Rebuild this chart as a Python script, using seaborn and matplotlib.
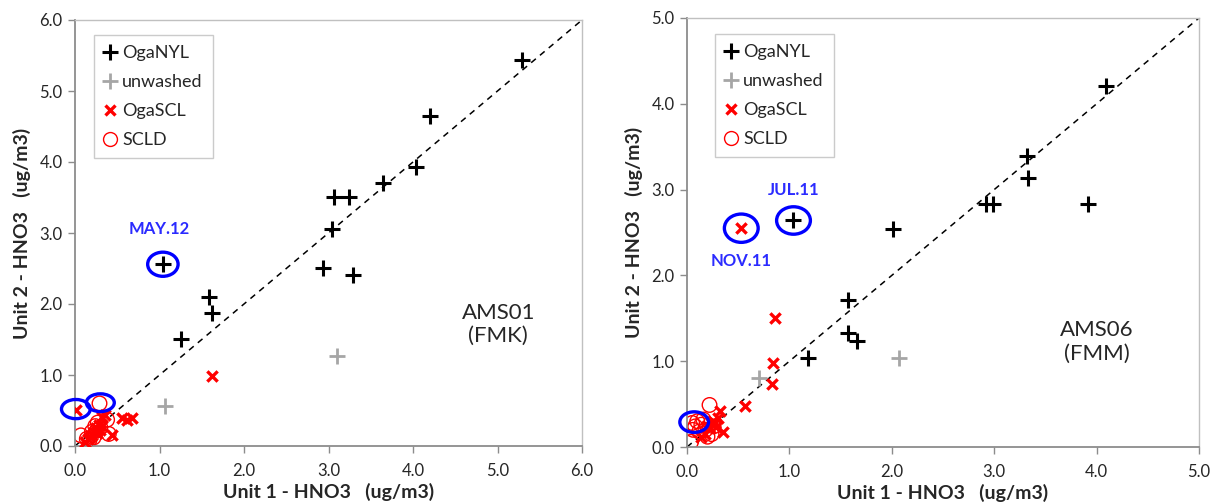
import matplotlib
matplotlib.use("Agg")
import matplotlib.pyplot as plt
from matplotlib.patches import Ellipse
from matplotlib.lines import Line2D
import seaborn as sns
import pandas as pd

sns.set_theme(style="white")
plt.rcParams['font.family'] = ['Lato', 'DejaVu Sans']

# ---------------- Data: AMS01 (FMK) ----------------
a1_nyl_x = [5.29, 4.20, 4.04, 3.65, 3.06, 3.24, 3.04, 2.93, 3.29, 1.04, 1.59, 1.62, 1.25]
a1_nyl_y = [5.44, 4.65, 3.93, 3.70, 3.51, 3.51, 3.06, 2.51, 2.41, 2.56, 2.10, 1.87, 1.51]
a1_unw_x = [3.10, 1.07]
a1_unw_y = [1.27, 0.56]
a1_scl_x = [0.01, 1.62, 0.32, 0.36, 0.56, 0.62, 0.68, 0.44, 0.12, 0.15, 0.20, 0.22, 0.25, 0.28, 0.30, 0.18, 0.26, 0.32]
a1_scl_y = [0.51, 0.99, 0.41, 0.44, 0.40, 0.37, 0.40, 0.16, 0.06, 0.10, 0.15, 0.20, 0.25, 0.30, 0.22, 0.12, 0.18, 0.28]
a1_scld_x = [0.29, 0.07, 0.40, 0.38, 0.20, 0.24, 0.27, 0.22, 0.17, 0.30, 0.26, 0.14]
a1_scld_y = [0.60, 0.15, 0.17, 0.37, 0.20, 0.28, 0.33, 0.12, 0.08, 0.26, 0.22, 0.10]

# ---------------- Data: AMS06 (FMM) ----------------
a6_nyl_x = [4.09, 3.32, 3.33, 2.92, 2.99, 3.92, 2.01, 1.04, 1.57, 1.57, 1.66, 1.18]
a6_nyl_y = [4.21, 3.39, 3.13, 2.83, 2.83, 2.83, 2.54, 2.64, 1.71, 1.33, 1.24, 1.04]
a6_unw_x = [0.70, 2.07]
a6_unw_y = [0.81, 1.04]
a6_scl_x = [0.53, 0.86, 0.84, 0.83, 0.57, 0.32, 0.30, 0.35, 0.27, 0.22, 0.18, 0.25, 0.14, 0.20, 0.28]
a6_scl_y = [2.55, 1.50, 0.98, 0.74, 0.48, 0.42, 0.34, 0.18, 0.28, 0.22, 0.15, 0.30, 0.12, 0.25, 0.23]
a6_scld_x = [0.22, 0.04, 0.05, 0.10, 0.08, 0.14, 0.18, 0.20, 0.12, 0.24, 0.16, 0.06, 0.26]
a6_scld_y = [0.49, 0.06, 0.28, 0.30, 0.24, 0.26, 0.20, 0.12, 0.18, 0.15, 0.32, 0.20, 0.24]

series_names = ["OgaNYL", "unwashed", "OgaSCL", "SCLD"]
x_ticks_left = [0.0, 1.0, 2.0, 3.0, 4.0, 5.0, 6.0]
x_ticks_right = [0.0, 1.0, 2.0, 3.0, 4.0, 5.0]

# highlight ellipses: (x, y, width, height) in data units
hl_left = [(1.04, 2.56, 0.36, 0.34), (0.01, 0.52, 0.34, 0.27), (0.30, 0.61, 0.33, 0.25)]
hl_right = [(1.04, 2.64, 0.33, 0.32), (0.53, 2.55, 0.33, 0.33), (0.07, 0.29, 0.28, 0.24)]
labels_left = [("MAY.12", 1.0, 3.05)]
labels_right = [("JUL.11", 1.04, 2.99), ("NOV.11", 0.53, 2.17)]

BLACK = "#000000"
GRAY = "#A6A6A6"
RED = "#FF0000"
BLUE = "#0000FF"
LBLUE = "#2B2BFF"

fig = plt.figure(figsize=(12.12, 5.03), dpi=100)
axL = fig.add_axes([75/1212, 1-446/503, (582-75)/1212, (446-20)/503])
axR = fig.add_axes([687/1212, 1-447/503, (1199-687)/1212, (447-18)/503])


def draw(ax, d, lim, xticks, hls, labs, title, tpos):
    ax.plot([0, lim], [0, lim], ls=(0, (4, 3.5)), color="black", lw=1.1, zorder=1)
    sns.scatterplot(x=d["nyl"][0], y=d["nyl"][1], ax=ax, marker="+", s=120,
                    color=BLACK, linewidth=2.2, zorder=3)
    sns.scatterplot(x=d["unw"][0], y=d["unw"][1], ax=ax, marker="+", s=120,
                    color=GRAY, linewidth=2.0, zorder=3)
    sns.scatterplot(x=d["scl"][0], y=d["scl"][1], ax=ax, marker="x", s=55,
                    color=RED, linewidth=2.4, zorder=3)
    sns.scatterplot(x=d["scld"][0], y=d["scld"][1], ax=ax, marker="o", s=110,
                    facecolor="none", edgecolor=RED, linewidth=1.0, zorder=2)
    for (cx, cy, w, h) in hls:
        ax.add_patch(Ellipse((cx, cy), w, h, fill=False, edgecolor=BLUE, lw=2.4,
                             zorder=4, clip_on=False))
    for (t, tx, ty) in labs:
        ax.text(tx, ty, t, color=LBLUE, fontsize=12, fontweight="bold",
                ha="center", va="center")
    ax.text(tpos[0], tpos[1], title, fontsize=16, ha="center", va="center",
            transform=ax.transAxes, linespacing=1.2)
    ax.set_xlim(0, lim)
    ax.set_ylim(0, lim)
    ax.set_xticks(xticks)
    ax.set_yticks(xticks)
    ax.set_xticklabels([f"{v:.1f}" for v in xticks])
    ax.set_yticklabels([f"{v:.1f}" for v in xticks])
    ax.tick_params(axis="both", direction="out", length=5, width=1, color="#8C8C8C",
                   labelsize=12, labelcolor="#262626", pad=4, bottom=True, left=True)
    ax.tick_params(axis="x", pad=7)
    for s in ["left", "bottom"]:
        ax.spines[s].set_color("#8C8C8C")
        ax.spines[s].set_linewidth(1.3)
    for s in ["top", "right"]:
        ax.spines[s].set_color("#C0C0C0")
        ax.spines[s].set_linewidth(1.0)
    ax.set_xlabel("Unit 1 - HNO3   (ug/m3)", fontsize=14, fontweight="bold", labelpad=3)
    ax.set_ylabel("Unit 2 - HNO3   (ug/m3)", fontsize=14, fontweight="bold", labelpad=6)
    ax.grid(False)
    handles = [
        Line2D([], [], marker="+", ls="none", color=BLACK, ms=11, mew=2.2),
        Line2D([], [], marker="+", ls="none", color=GRAY, ms=11, mew=2.0),
        Line2D([], [], marker="x", ls="none", color=RED, ms=7, mew=2.4),
        Line2D([], [], marker="o", ls="none", mfc="none", mec=RED, ms=10, mew=1.0),
    ]
    return handles


hL = draw(axL, {"nyl": (a1_nyl_x, a1_nyl_y), "unw": (a1_unw_x, a1_unw_y),
                "scl": (a1_scl_x, a1_scl_y), "scld": (a1_scld_x, a1_scld_y)},
          6.0, x_ticks_left, hl_left, labels_left, "AMS01\n(FMK)", (0.835, 0.285))
hR = draw(axR, {"nyl": (a6_nyl_x, a6_nyl_y), "unw": (a6_unw_x, a6_unw_y),
                "scl": (a6_scl_x, a6_scl_y), "scld": (a6_scld_x, a6_scld_y)},
          5.0, x_ticks_right, hl_right, labels_right, "AMS06\n(FMM)", (0.80, 0.245))

for ax, h, anchor in [(axL, hL, (0.038, 0.965)), (axR, hR, (0.055, 0.962))]:
    leg = ax.legend(h, series_names, loc="upper left", bbox_to_anchor=anchor,
                    frameon=True, fancybox=False, edgecolor="#BFBFBF", fontsize=13,
                    handlelength=0.6, handletextpad=0.4, labelspacing=0.72,
                    borderpad=0.55, borderaxespad=0)
    leg.get_frame().set_linewidth(1.0)

fig.savefig("out.png", dpi=100)
